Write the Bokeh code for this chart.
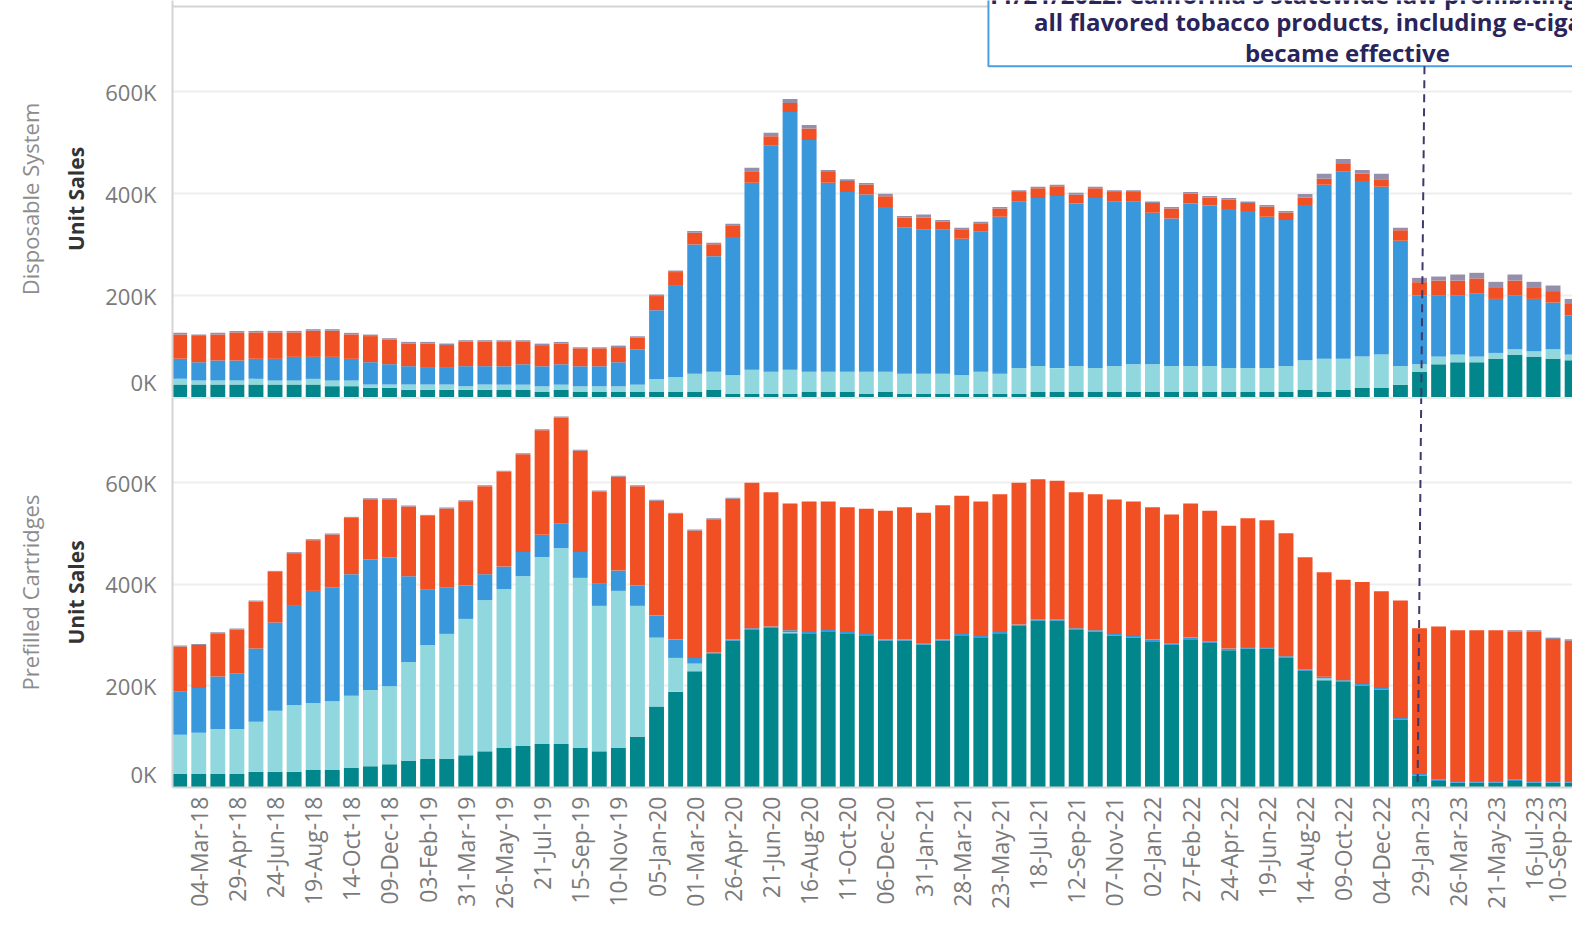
from math import pi
from bokeh.plotting import figure
from bokeh.models import ColumnDataSource, Range1d, FixedTicker, LinearAxis, Span, BoxAnnotation
from bokeh.layouts import column
from bokeh.embed import file_html
from bokeh.resources import INLINE
from bokeh.core.properties import value

# ---------------- data (unit sales, thousands) ----------------
periods = [
    "04-Feb-18", "04-Mar-18", "01-Apr-18", "29-Apr-18", "27-May-18", "24-Jun-18", "22-Jul-18", "19-Aug-18",
    "16-Sep-18", "14-Oct-18", "11-Nov-18", "09-Dec-18", "06-Jan-19", "03-Feb-19", "03-Mar-19", "31-Mar-19",
    "28-Apr-19", "26-May-19", "23-Jun-19", "21-Jul-19", "18-Aug-19", "15-Sep-19", "13-Oct-19", "10-Nov-19",
    "08-Dec-19", "05-Jan-20", "02-Feb-20", "01-Mar-20", "29-Mar-20", "26-Apr-20", "24-May-20", "21-Jun-20",
    "19-Jul-20", "16-Aug-20", "13-Sep-20", "11-Oct-20", "08-Nov-20", "06-Dec-20", "03-Jan-21", "31-Jan-21",
    "28-Feb-21", "28-Mar-21", "25-Apr-21", "23-May-21", "20-Jun-21", "18-Jul-21", "15-Aug-21", "12-Sep-21",
    "10-Oct-21", "07-Nov-21", "05-Dec-21", "02-Jan-22", "30-Jan-22", "27-Feb-22", "27-Mar-22", "24-Apr-22",
    "22-May-22", "19-Jun-22", "17-Jul-22", "14-Aug-22", "11-Sep-22", "09-Oct-22", "06-Nov-22", "04-Dec-22",
    "01-Jan-23", "29-Jan-23", "26-Feb-23", "26-Mar-23", "23-Apr-23", "21-May-23", "18-Jun-23", "16-Jul-23",
    "13-Aug-23", "10-Sep-23",
]

disp_teal = [
    25.5, 25.5, 25.5, 25.5, 25.5, 25.5, 25.5, 25.5, 22.2, 22.2,
    18.9, 18.9, 15.0, 15.0, 15.0, 15.0, 15.0, 14.7, 14.7, 10.8,
    14.7, 10.8, 10.8, 10.8, 10.8, 10.8, 10.8, 10.8, 14.7, 6.9,
    6.9, 6.9, 6.9, 10.8, 10.8, 10.8, 6.9, 10.8, 6.9, 6.9,
    6.9, 6.9, 6.9, 6.9, 6.9, 10.8, 10.8, 10.8, 10.8, 10.8,
    10.8, 10.8, 10.8, 10.8, 10.8, 10.8, 10.8, 10.8, 10.8, 14.7,
    10.8, 14.7, 18.7, 18.7, 25.2, 50.8, 65.2, 69.2, 69.2, 76.3,
    84.2, 80.3, 76.3, 73.1,
]
disp_light_teal = [
    11.1, 7.8, 7.8, 7.8, 11.1, 7.8, 7.8, 11.1, 11.1, 11.1,
    6.6, 6.6, 10.5, 10.5, 10.5, 7.2, 10.5, 10.5, 10.5, 11.1,
    10.5, 11.1, 11.1, 11.1, 14.4, 25.6, 28.8, 36.0, 36.1, 36.6,
    47.8, 43.9, 47.8, 40.0, 40.0, 40.0, 43.9, 40.0, 39.9, 39.9,
    39.9, 36.6, 43.9, 39.9, 51.1, 51.2, 46.9, 51.2, 47.2, 51.2,
    54.4, 54.4, 51.2, 51.2, 51.2, 47.2, 47.2, 47.2, 51.2, 58.4,
    65.5, 61.6, 61.6, 65.5, 36.8, 14.4, 15.1, 15.0, 11.1, 11.2,
    10.5, 10.5, 18.4, 11.1,
]
disp_blue = [
    39.3, 36.0, 39.3, 39.3, 39.3, 42.6, 46.5, 43.2, 46.5, 42.6,
    43.8, 39.9, 36.0, 32.7, 32.7, 39.3, 36.0, 36.1, 40.0, 39.4,
    40.0, 39.4, 39.4, 47.3, 69.5, 135.0, 179.6, 253.7, 226.7, 271.4,
    367.0, 443.6, 505.9, 454.8, 370.9, 352.5, 348.0, 323.1, 286.4, 282.5,
    282.5, 268.1, 274.6, 308.1, 326.4, 329.5, 337.9, 319.0, 333.5, 322.4,
    319.2, 297.5, 289.6, 319.0, 315.1, 311.9, 308.0, 296.9, 286.3, 304.7,
    341.4, 367.0, 344.7, 329.7, 245.7, 135.7, 120.6, 116.7, 124.5, 106.1,
    106.2, 102.8, 91.7, 76.6,
]
disp_orange = [
    48.0, 51.3, 51.3, 55.2, 51.9, 51.9, 48.0, 51.3, 51.3, 48.0,
    51.3, 48.0, 44.7, 48.0, 44.8, 48.0, 48.0, 48.1, 44.2, 41.5,
    40.9, 35.3, 35.3, 29.7, 22.5, 27.8, 27.1, 23.2, 23.3, 23.2,
    22.5, 18.6, 17.6, 22.5, 20.9, 22.0, 19.3, 21.2, 20.0, 24.1,
    16.0, 18.6, 16.6, 16.0, 19.3, 19.4, 19.3, 17.2, 19.4, 19.3,
    19.3, 19.3, 19.3, 19.3, 15.4, 18.6, 16.0, 19.9, 14.7, 14.6,
    11.7, 15.0, 14.6, 14.5, 20.5, 25.5, 28.6, 28.6, 29.0, 23.0,
    28.6, 21.5, 22.5, 22.8,
]
disp_purple = [
    3, 3, 3, 3, 3, 3, 3, 3, 3, 3,
    3, 3, 3, 3, 3, 3, 3, 3, 3, 3,
    3, 2, 2, 3, 3, 3, 3, 3, 3, 3,
    7, 7, 8, 7, 4, 3, 3, 5, 3, 6,
    3, 3, 3, 3, 3, 3, 3, 4, 3, 3,
    3, 3, 3, 3, 3, 3, 3, 3, 3, 7,
    10, 10, 7, 11, 5, 8.5, 8, 12, 11, 10.5,
    12, 12, 11, 10,
]

cart_teal = [
    26.6, 26.6, 26.6, 26.6, 31.2, 31.2, 31.2, 34.5, 34.5, 38.4,
    41.7, 45.6, 52.9, 56.2, 56.2, 63.4, 71.2, 78.5, 81.8, 85.7,
    85.7, 78.5, 71.2, 78.5, 100.2, 159.3, 188.8, 228.9, 263.0, 289.3,
    310.3, 314.3, 303.8, 303.8, 307.6, 303.8, 299.8, 289.3, 289.3, 281.4,
    289.3, 299.8, 295.8, 303.8, 318.2, 328.7, 328.7, 310.3, 307.1, 299.2,
    295.2, 288.0, 280.8, 292.0, 284.7, 270.3, 273.6, 273.6, 255.2, 229.6,
    211.2, 207.9, 200.7, 192.8, 133.7, 23.3, 12.8, 9.5, 9.5, 9.5,
    12.8, 9.5, 9.5, 9.5,
]
cart_light_teal = [
    77.2, 81.1, 88.7, 88.7, 98.4, 120.1, 131.3, 131.9, 135.2, 142.5,
    150.4, 153.7, 194.4, 224.0, 246.3, 268.6, 297.6, 312.0, 334.3, 367.9,
    385.6, 334.3, 286.5, 308.7, 257.5, 135.9, 66.4, 15.1, 0.0, 0.0,
    0.0, 0.0, 2.0, 0.0, 0.0, 0.0, 0.0, 0.0, 0.0, 0.0,
    0.0, 0.0, 0.0, 0.0, 0.0, 0.0, 0.0, 0.0, 0.0, 0.0,
    0.0, 0.0, 0.0, 0.0, 0.0, 0.0, 0.0, 0.0, 0.0, 0.0,
    3.5, 0.0, 0.0, 0.0, 0.0, 0.0, 0.0, 0.0, 0.0, 0.0,
    0.0, 0.0, 0.0, 0.0,
]
cart_blue = [
    85.0, 88.4, 103.1, 109.7, 144.0, 173.6, 195.2, 220.8, 224.7, 239.1,
    256.8, 253.6, 168.8, 110.3, 91.9, 65.7, 51.2, 44.6, 47.8, 43.9,
    47.9, 51.1, 43.7, 40.0, 40.0, 43.4, 36.1, 11.2, 2.7, 2.0,
    3.3, 2.6, 3.9, 2.6, 2.7, 2.6, 2.6, 2.0, 2.0, 2.7,
    2.0, 2.6, 2.6, 2.6, 2.6, 2.6, 2.6, 3.3, 2.6, 3.2,
    3.2, 3.3, 3.3, 3.2, 3.3, 3.3, 3.2, 3.2, 3.3, 3.2,
    3.6, 3.3, 3.2, 3.3, 3.2, 3.3, 3.3, 3.3, 3.3, 3.3,
    3.3, 3.3, 3.3, 3.3,
]
cart_orange = [
    88.7, 84.7, 85.3, 85.9, 92.5, 99.7, 103.7, 99.8, 103.8, 111.0,
    118.9, 114.9, 137.2, 144.4, 155.0, 166.2, 173.4, 186.9, 192.3, 206.2,
    209.5, 199.1, 181.6, 184.6, 195.7, 226.0, 247.6, 250.8, 262.5, 277.2,
    286.4, 264.7, 249.6, 256.8, 252.9, 245.6, 246.4, 253.5, 260.7, 256.8,
    264.6, 271.9, 264.8, 271.2, 279.2, 275.9, 272.6, 268.0, 267.9, 264.8,
    264.8, 260.7, 253.5, 264.1, 256.8, 241.7, 253.6, 249.7, 242.4, 220.8,
    205.6, 197.7, 201.0, 190.4, 231.2, 287.0, 300.8, 296.9, 296.9, 296.9,
    290.6, 293.9, 279.4, 276.1,
]
cart_purple = [
    2, 2, 2, 2, 2, 2, 2, 2, 2, 2,
    2, 2, 2, 2, 2, 2, 2, 2, 2, 2,
    2, 2, 2, 2, 2, 2, 2, 2, 2, 2,
    0, 0, 0, 0, 0, 0, 0, 0, 0, 0,
    0, 0, 0, 0, 0, 0, 0, 0, 0, 0,
    0, 0, 0, 0, 0, 0, 0, 0, 0, 0,
    0, 0, 0, 0, 0, 0, 0, 0, 0, 0,
    3, 3, 3, 3,
]

y_ticks = [0, 200, 400, 600]
y_tick_labels = ["0K", "200K", "400K", "600K"]
annotation_lines = [
    "11/21/2022: California's statewide law prohibiting the sale of",
    "all flavored tobacco products, including e-cigarettes,",
    "became effective",
]

# ---------------- styling ----------------
series_keys = ["teal", "light_teal", "blue", "orange", "purple"]
series_colors = ["#00868b", "#91d8de", "#3998db", "#f05023", "#968fab"]
FONT = "Open Sans"
GRID = "#eeeeee"
RULE = "#d4d4d4"
TICK_TXT = "#7a7a7a"
NAVY = "#29245a"
MARKER = "#3d3a6b"

x_idx = list(range(len(periods)))
x_rng = Range1d(-0.376, 73.02)


def make_panel(height, y_end, b_top, b_bottom, with_x, header, zero_pos):
    p = figure(width=1572, height=height, x_range=x_rng, y_range=Range1d(0, y_end),
               output_backend="svg", toolbar_location=None,
               x_axis_location="below" if with_x else None,
               min_border_left=172, min_border_right=0,
               min_border_top=b_top, min_border_bottom=b_bottom,
               background_fill_color="white", border_fill_color="white",
               outline_line_color=None)
    p.xgrid.visible = False
    p.ygrid.ticker = FixedTicker(ticks=y_ticks[1:])
    p.ygrid.grid_line_color = GRID
    p.ygrid.grid_line_width = 2

    ax = p.yaxis[0]
    ticks = [zero_pos] + y_ticks[1:]  # Tableau lifts the "0K" label above the baseline
    ax.ticker = FixedTicker(ticks=ticks)
    ax.major_label_overrides = {t: lab for t, lab in zip(ticks, y_tick_labels)}
    ax.major_tick_line_color = None
    ax.minor_tick_line_color = None
    ax.major_tick_out = 0
    ax.major_tick_in = 0
    ax.major_label_standoff = 16
    ax.major_label_text_font = FONT
    ax.major_label_text_font_size = "22px"
    ax.major_label_text_color = TICK_TXT
    ax.axis_line_color = RULE
    ax.axis_line_width = 2
    ax.axis_label = "Unit Sales"
    ax.axis_label_text_font = FONT
    ax.axis_label_text_font_size = "21px"
    ax.axis_label_text_font_style = "bold"
    ax.axis_label_text_color = "#333333"
    ax.axis_label_standoff = 12

    hdr = LinearAxis(ticker=FixedTicker(ticks=[]), axis_label=header,
                     axis_line_color=None, major_tick_line_color=None,
                     minor_tick_line_color=None, major_tick_out=0, major_tick_in=0,
                     major_label_standoff=0, major_label_text_font_size="0px",
                     axis_label_standoff=15, axis_label_text_font=FONT,
                     axis_label_text_font_size="22px", axis_label_text_font_style="normal",
                     axis_label_text_color="#8c8c8c")
    p.add_layout(hdr, "left")
    return p


def left_rule(p, y0, y1):
    p.add_layout(BoxAnnotation(left=-162, right=0, left_units="screen", right_units="screen",
                               bottom=y0, top=y1, fill_color=RULE, fill_alpha=1.0,
                               line_color=None, level="overlay"))


# ---------------- top panel: Disposable System ----------------
TOP_END = 779.5
TOP_RULE = 767.7
p_top = make_panel(397, TOP_END, 0, 0, False, "Disposable System", 30)
src_top = ColumnDataSource(dict(x=x_idx, teal=disp_teal, light_teal=disp_light_teal,
                                blue=disp_blue, orange=disp_orange, purple=disp_purple))
p_top.vbar_stack(series_keys, x="x", width=0.78, fill_color=series_colors,
                 line_color=None, source=src_top)
p_top.segment(x0=[-1], y0=[TOP_RULE], x1=[80], y1=[TOP_RULE], line_color=RULE, line_width=2)
left_rule(p_top, TOP_RULE - 2, TOP_RULE + 2)

# annotation box + text + dashed marker
p_top.quad(left=[42.40], right=[90], bottom=[650.5], top=[1000],
           fill_color="white", line_color="#4b9fe1", line_width=2)
p_top.text(x=[61.22, 61.22, 61.22], y=[792, 738.6, 677.6], text=annotation_lines,
           text_font=value(FONT), text_font_style="bold", text_font_size="24px",
           text_color=NAVY, text_align="center", text_baseline="alphabetic")
p_top.segment(x0=[65.26], y0=[650.5], x1=[65.09], y1=[-3],
              line_color=MARKER, line_width=2, line_dash="8 6")

# ---------------- bottom panel: Prefilled Cartridges ----------------
BOT_END = 768
p_bot = make_panel(535, BOT_END, 0, 145, True, "Prefilled Cartridges", 27)
src_bot = ColumnDataSource(dict(x=x_idx, teal=cart_teal, light_teal=cart_light_teal,
                                blue=cart_blue, orange=cart_orange, purple=cart_purple))
p_bot.vbar_stack(series_keys, x="x", width=0.78, fill_color=series_colors,
                 line_color=None, source=src_bot)
p_bot.segment(x0=[65.09], y0=[BOT_END + 3], x1=[64.90], y1=[7.5],
              line_color=MARKER, line_width=2, line_dash="8 6")
p_bot.add_layout(Span(location=BOT_END, dimension="width", line_color=RULE, line_width=2))
left_rule(p_bot, BOT_END - 4, BOT_END)
left_rule(p_bot, -2, 2)
p_bot.add_layout(BoxAnnotation(left=-1, right=1, left_units="screen", right_units="screen",
                               bottom=-400, top=0, fill_color=RULE, fill_alpha=1.0,
                               line_color=None, level="overlay"))

xa = p_bot.xaxis[0]
odd = [i for i in x_idx if i % 2 == 1]
xa.ticker = FixedTicker(ticks=odd)
xa.major_label_overrides = {i: periods[i] for i in odd}
xa.major_label_orientation = pi / 2
xa.major_label_text_font = FONT
xa.major_label_text_font_size = "23px"
xa.major_label_text_color = TICK_TXT
xa.major_label_standoff = 9
xa.major_tick_line_color = None
xa.minor_tick_line_color = None
xa.major_tick_out = 0
xa.major_tick_in = 0
xa.axis_line_color = RULE
xa.axis_line_width = 2

layout = column(p_top, p_bot)
open("out.html", "w").write(file_html(layout, INLINE))
